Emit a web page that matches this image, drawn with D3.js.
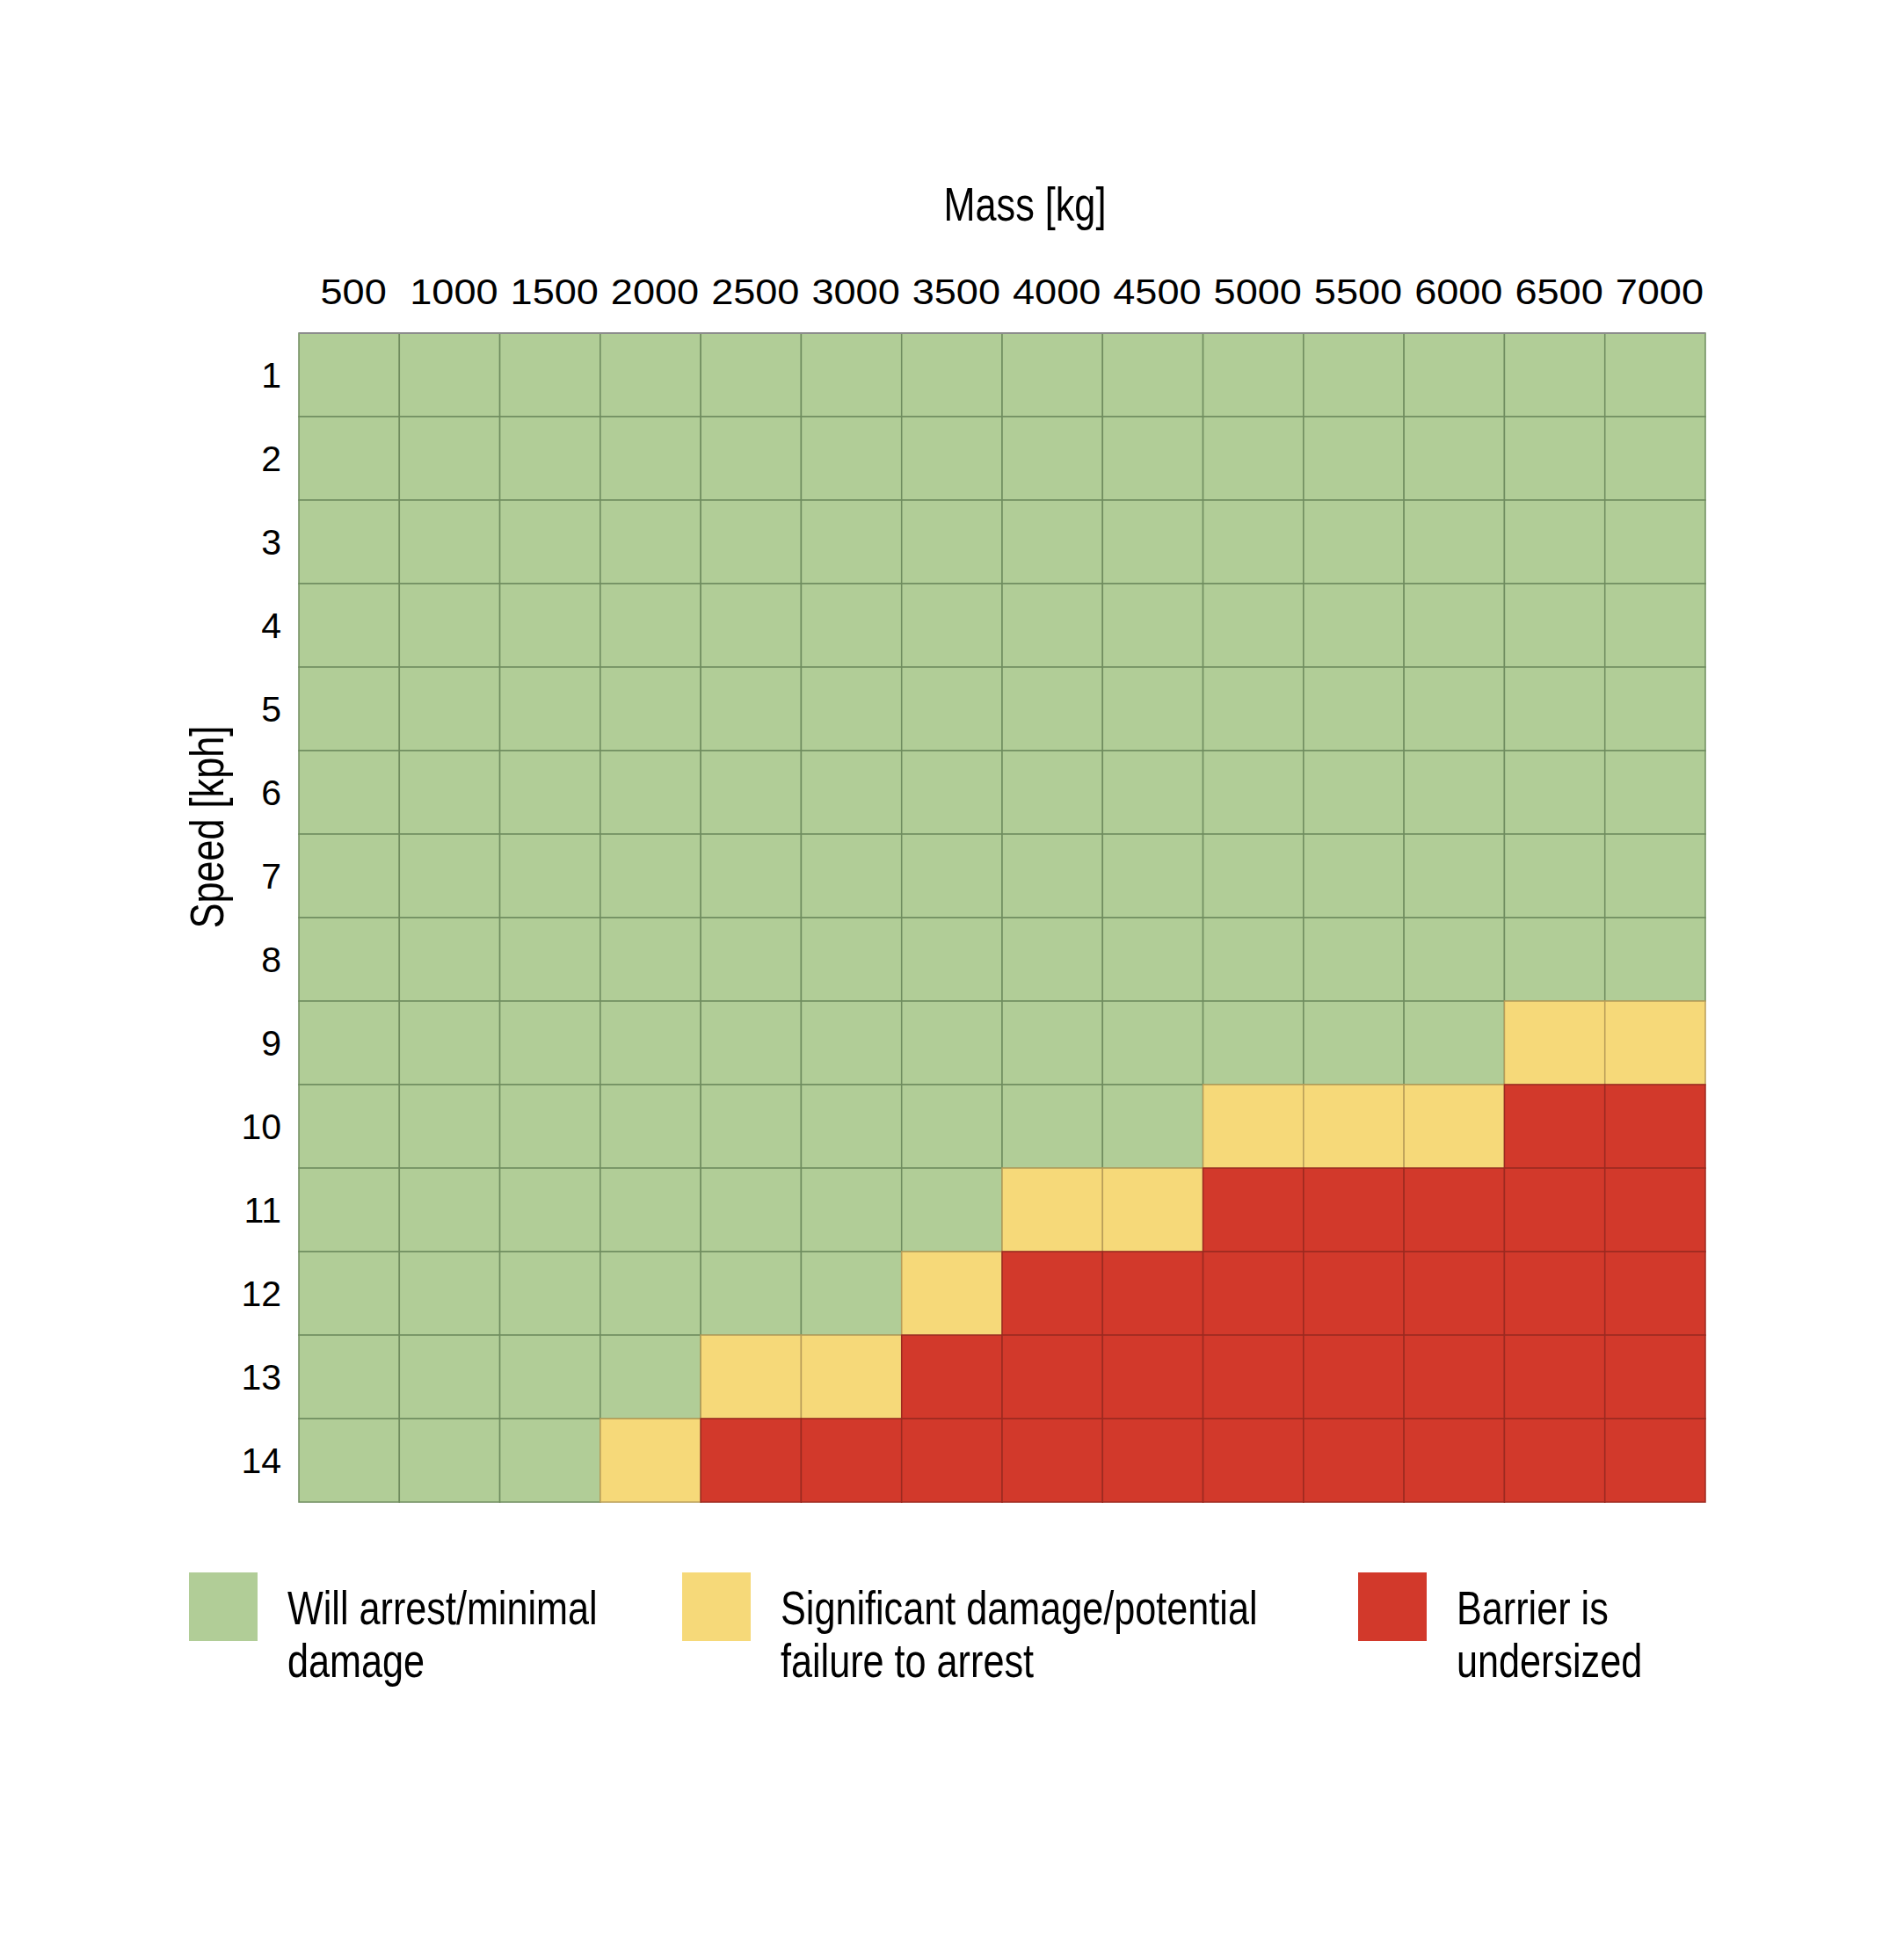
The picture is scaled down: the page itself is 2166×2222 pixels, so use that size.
<!DOCTYPE html>
<html>
<meta charset='utf-8'>
<head>
<title>barrier capacity grid</title>
<script src='https://d3js.org/d3.v7.min.js'></script>
<style>
body { margin: 0; background: #fff; }
</style>
</head>
<body>
<div id='chart'></div>
<script>
// data
var masses = [500, 1000, 1500, 2000, 2500, 3000, 3500, 4000, 4500, 5000, 5500, 6000, 6500, 7000]
var speeds = [1, 2, 3, 4, 5, 6, 7, 8, 9, 10, 11, 12, 13, 14]
// one string per speed row, one letter per mass column: G / Y / R
var ratings = [
  'GGGGGGGGGGGGGG',
  'GGGGGGGGGGGGGG',
  'GGGGGGGGGGGGGG',
  'GGGGGGGGGGGGGG',
  'GGGGGGGGGGGGGG',
  'GGGGGGGGGGGGGG',
  'GGGGGGGGGGGGGG',
  'GGGGGGGGGGGGGG',
  'GGGGGGGGGGGGYY',
  'GGGGGGGGGYYYRR',
  'GGGGGGGYYRRRRR',
  'GGGGGGYRRRRRRR',
  'GGGGYYRRRRRRRR',
  'GGGYRRRRRRRRRR'
]
var classes = ['G', 'Y', 'R']
var classLabels = [
  ['Will arrest/minimal', 'damage'],
  ['Significant damage/potential', 'failure to arrest'],
  ['Barrier is', 'undersized']
]

var fills = ['#b1cd97', '#f6d979', '#d2392b']
var strokes = ['#6f8c5f', '#b89d58', '#9c2a20']
var font = 'Liberation Sans, Arial, Helvetica, sans-serif'

var width = 2166, height = 2222
var grid = {left: 340, right: 1940, top: 379, bottom: 1709}

var svg = d3.select('#chart')
  .append('svg')
    .attr('width', width)
    .attr('height', height)

var x = d3.scaleBand()
  .domain(masses)
  .range([grid.left, grid.right])
var y = d3.scaleBand()
  .domain(speeds)
  .range([grid.top, grid.bottom])
var fill = d3.scaleOrdinal().domain(classes).range(fills)
var stroke = d3.scaleOrdinal().domain(classes).range(strokes)

var cells = []
ratings.forEach(function(row, i) {
  row.split('').forEach(function(c, j) {
    cells.push({speed: speeds[i], mass: masses[j], cls: c})
  })
})

svg.append('g')
  .selectAll('rect')
  .data(cells)
  .enter()
  .append('rect')
    .attr('x', function(d) { return x(d.mass) })
    .attr('y', function(d) { return y(d.speed) })
    .attr('width', x.bandwidth())
    .attr('height', y.bandwidth())
    .attr('fill', function(d) { return fill(d.cls) })
    .attr('stroke', function(d) { return stroke(d.cls) })
    .attr('stroke-width', 1.5)

// grey rule along the top of the grid
svg.append('line')
  .attr('x1', grid.left).attr('x2', grid.right)
  .attr('y1', grid.top).attr('y2', grid.top)
  .attr('stroke', '#8c8c8c')
  .attr('stroke-width', 2)

// mass labels across the top (slightly wide face)
svg.append('g')
  .attr('transform', 'translate(5,346)')
  .call(d3.axisTop(x).tickSize(0))
  .call(function(g) { g.select('.domain').remove() })
  .selectAll('text')
    .attr('y', 0)
    .attr('dy', null)
    .attr('transform', 'scale(1.1,1)')
    .style('font-family', font)
    .style('font-size', '41px')
    .style('fill', '#000')

// speed labels down the left
svg.append('g')
  .attr('transform', 'translate(320,0)')
  .call(d3.axisLeft(y).tickSize(0))
  .call(function(g) { g.select('.domain').remove() })
  .selectAll('text')
    .attr('x', 0)
    .attr('dy', '0.36em')
    .style('font-family', font)
    .style('font-size', '41px')
    .style('fill', '#000')

// axis titles, narrow face
svg.append('text')
  .attr('transform', 'translate(1166,251) scale(0.8,1)')
  .attr('text-anchor', 'middle')
  .style('font-family', font)
  .style('font-size', '54px')
  .text('Mass [kg]')

svg.append('text')
  .attr('transform', 'translate(254,941) rotate(-90) scale(0.8,1)')
  .attr('text-anchor', 'middle')
  .style('font-family', font)
  .style('font-size', '54px')
  .text('Speed [kph]')

// legend
var legendX = [215, 776, 1545]
var legend = svg.append('g')
  .selectAll('g')
  .data(classes)
  .enter()
  .append('g')
    .attr('transform', function(d, i) { return 'translate(' + legendX[i] + ',1789)' })

legend.append('rect')
  .attr('width', 78)
  .attr('height', 78)
  .attr('fill', function(d) { return fill(d) })

legend.append('text')
  .attr('transform', 'translate(112,59) scale(0.8,1)')
  .style('font-family', font)
  .style('font-size', '54px')
  .selectAll('tspan')
  .data(function(d, i) { return classLabels[i] })
  .enter()
  .append('tspan')
    .attr('x', 0)
    .attr('dy', function(d, i) { return i === 0 ? 0 : 60 })
    .text(function(d) { return d })
</script>
</body>
</html>
